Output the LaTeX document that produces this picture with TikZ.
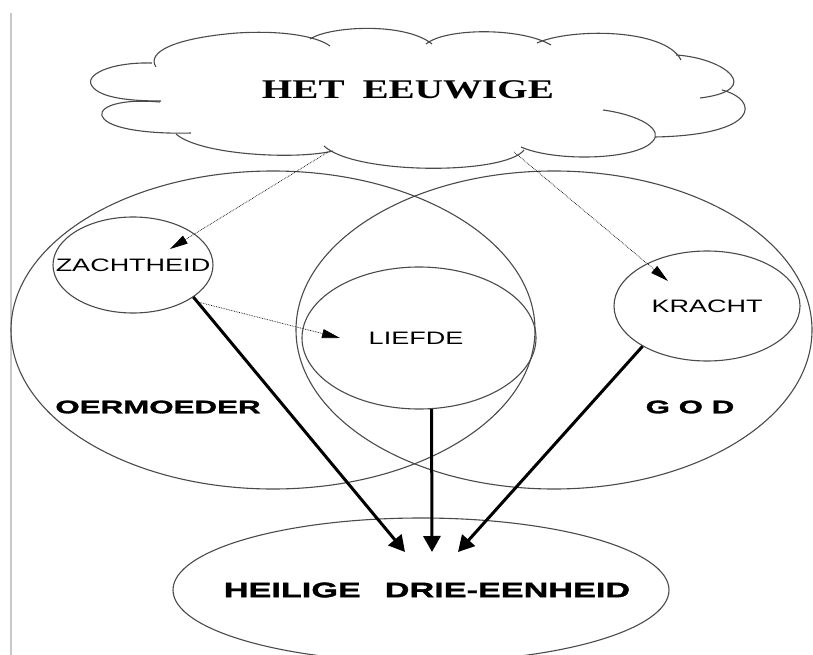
\documentclass[tikz,border=0pt]{standalone}
\usepackage{fontspec}
\usetikzlibrary{arrows.meta,shapes.geometric}
\newfontfamily\cloudfont[FakeStretch=1.45]{Liberation Serif}
\newfontfamily\thinfont[FakeStretch=1.5]{Liberation Sans}
\newfontfamily\boldA[FakeStretch=1.72,FakeBold=1.6]{Liberation Sans}
\newfontfamily\boldB[FakeStretch=1.63,FakeBold=1.6]{Liberation Sans}
\definecolor{linegray}{HTML}{4A4A4A}
\definecolor{edgegray}{HTML}{C8C8C8}
\tikzset{
  ring/.style={ellipse, draw=linegray, line width=1.1pt, inner sep=0pt},
  cloudline/.style={draw=linegray, line width=1.1pt},
  thinarrow/.style={draw=black, line width=0.7pt, densely dotted,
     -{Triangle[length=18pt,width=9pt]}},
  thickarrow/.style={draw=black, line width=3pt,
     -{Triangle[length=16pt,width=17pt]}},
  thinlabel/.style={font=\thinfont\fontsize{18}{20}\selectfont},
  boldlabel/.style={font=\boldA\bfseries\fontsize{18.2}{20}\selectfont}
}
\begin{document}
\begin{tikzpicture}[x=1pt,y=-1pt]
\useasboundingbox (0,0) rectangle (813,655);
% left page edge
\draw[edgegray, line width=1.6pt] (11,13) -- (11,655);
% cloud
\draw[cloudline] (156,67) .. controls (146,52) and (175,38) .. (237,33) .. controls (285,30) and (318,37) .. (330,46);
\draw[cloudline] (310,39) .. controls (330,26) and (405,22) .. (432,44);
\draw[cloudline] (426,44) .. controls (445,28) and (520,27) .. (551,45);
\draw[cloudline] (537,43) .. controls (570,28) and (665,28) .. (681,60);
\draw[cloudline] (676,55) .. controls (725,58) and (765,90) .. (700,98);
\draw[cloudline] (722,90) .. controls (760,100) and (760,135) .. (655,137);
\draw[cloudline] (603,110) .. controls (640,115) and (665,130) .. (652,142) .. controls (635,160) and (555,162) .. (521,147);
\draw[cloudline] (524,150) .. controls (505,175) and (355,175) .. (324,146);
\draw[cloudline] (176,134) .. controls (200,155) and (295,160) .. (333,151);
\draw[cloudline] (160,102) .. controls (112,98) and (95,110) .. (104,119) .. controls (115,131) and (160,134) .. (191,133);
\draw[cloudline] (152,63) .. controls (110,62) and (84,75) .. (92,86) .. controls (100,98) and (130,101) .. (161,101);
\node[font=\cloudfont\bfseries\fontsize{27}{29}\selectfont] (eeuwig) at (408,90) {HET\hspace{18pt}EEUWIGE};
% big circles
\node[ring, minimum width=524pt, minimum height=318pt] (oer) at (273,330) {};
\node[ring, minimum width=516pt, minimum height=318pt] (god) at (554,330) {};
% inner circles
\node[ring, thinlabel, minimum width=160pt, minimum height=96pt] (zach) at (133,265) {\makebox[0pt]{ZACHTHEID}};
\node[ring, thinlabel, minimum width=234pt, minimum height=142pt] (lief) at (419,338) {\makebox[0pt]{\hspace{-6pt}LIEFDE}};
\node[ring, thinlabel, minimum width=186pt, minimum height=110pt] (kr) at (707,306) {\makebox[0pt]{KRACHT}};
% labels
\node[boldlabel] (oerlabel) at (158,407) {OERMOEDER};
\node[boldlabel] (godlabel) at (690,407) {G O D};
% bottom ellipse
\node[ring, minimum width=496pt, minimum height=144pt, font=\boldB\bfseries\fontsize{21}{23}\selectfont] (drie) at (421,590) {\makebox[0pt]{\hspace{12pt}HEILIGE\hspace{24pt}DRIE-EENHEID}};
% arrow coordinates
\coordinate (c1) at (328,152);
\coordinate (c2) at (514,152);
\coordinate (zt) at (170,249);
\coordinate (kt) at (668,281);
\coordinate (lt) at (340,338);
\coordinate (zs) at (198,302);
\coordinate (h1) at (405,552);
\coordinate (h2) at (432,552);
\coordinate (h3) at (458,552);
% thin arrows
\draw[thinarrow] (c1) -- (zt);
\draw[thinarrow] (c2) -- (kt);
\draw[thinarrow] (zs) -- (lt);
% thick arrows
\draw[thickarrow] (zach.-28) -- (h1);
\draw[thickarrow] (lief.-80) -- (h2);
\draw[thickarrow] (kr.212) -- (h3);
\end{tikzpicture}
\end{document}
